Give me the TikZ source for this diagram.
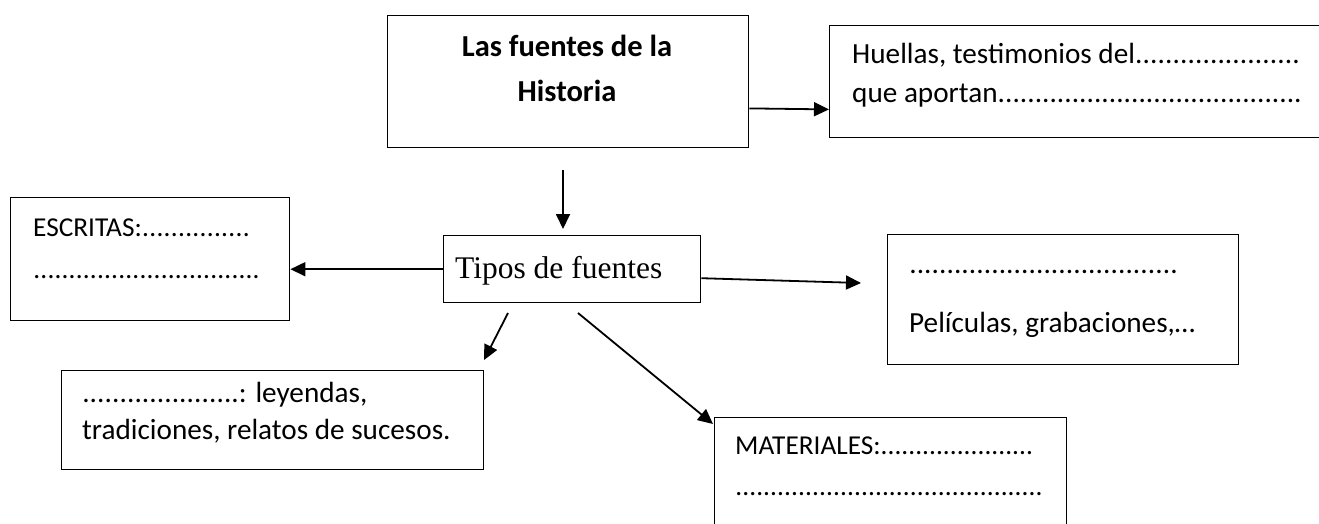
\documentclass[tikz,border=0pt]{standalone}
\usepackage{fontspec}
\setmainfont{Carlito}
\newfontfamily\timesfam{Liberation Serif}
\usetikzlibrary{arrows.meta,calc}
\newcommand\mydots{\xleaders\hbox{.}\hfill}
\begin{document}
\begin{tikzpicture}[x=1pt,y=-1pt,
  box/.style={draw,line width=1.4pt,inner sep=0pt,anchor=north west},
  txt/.style={anchor=base west,inner sep=0pt,font=\fontsize{29.2}{34}\selectfont},
  txts/.style={anchor=base west,inner sep=0pt,font=\fontsize{27.3}{32}\selectfont},
  ttl/.style={anchor=base,inner sep=0pt,font=\fontsize{30.5}{36}\selectfont\bfseries},
  conn/.style={line width=1.8pt,-{Triangle[length=15pt,width=14pt]}}]
\useasboundingbox (0,0) rectangle (1319,523);
\clip (0,0) rectangle (1319,523);
% boxes
\node[box,minimum width=361pt,minimum height=132pt] (main) at (387,15) {};
\node[box,minimum width=500pt,minimum height=112pt] (huellas) at (829,25) {};
\node[box,minimum width=257pt,minimum height=67pt] (tipos) at (443,235) {};
\node[box,minimum width=279pt,minimum height=123pt] (escritas) at (10,197) {};
\node[box,minimum width=351pt,minimum height=130pt] (peliculas) at (887,234) {};
\node[box,minimum width=422pt,minimum height=99pt] (leyendas) at (61,370) {};
\node[box,minimum width=352pt,minimum height=130pt] (materiales) at (714,417) {};
% texts
\node[ttl] (t1) at (567,56) {Las fuentes de la};
\node[ttl] (t2) at (567,101) {Historia};
\node[txt] (h1) at (852,63) {\makebox[448pt][l]{Huellas, testimonios del\mydots}};
\node[txt] (h2) at (852,102) {\makebox[450pt][l]{que aportan\mydots}};
\node[txts] (e1) at (33,236) {\makebox[217pt][l]{ESCRITAS:\mydots}};
\node[txts] (e2) at (33,278) {\makebox[227pt][l]{\mydots}};
\node[anchor=base west,inner sep=0pt,font=\timesfam\fontsize{31.5}{36}\selectfont] (tt) at (455,278) {Tipos de fuentes};
\node[txt] (p1) at (909,273) {\makebox[269pt][l]{\mydots}};
\node[txt] (p2) at (909,332) {Películas, grabaciones,…};
\node[txt] (l1) at (82,402) {\makebox[157pt][l]{\mydots}: leyendas,};
\node[txt] (l2) at (82,439) {tradiciones, relatos de sucesos.};
\node[txts] (m1) at (735,454) {\makebox[298pt][l]{MATERIALES:\mydots}};
\node[txts] (m2) at (735,495) {\makebox[308pt][l]{\mydots}};
% connector ends
\coordinate (vs) at (563,170);
\coordinate (ve) at (563,229);
\coordinate (pe) at (861,283);
\coordinate (ls) at (508,313);
\coordinate (le) at (484,360);
\coordinate (ms) at (578,313);
% connectors
\draw[conn] ($(main.south east)+(0,-40)$) -- ($(huellas.south west)+(0,-29)$);
\draw[conn] (vs) -- (ve);
\draw[conn] (tipos.west) -- (tipos.west -| escritas.east);
\draw[conn] ($(tipos.east)+(0,9)$) -- (pe);
\draw[conn] (ls) -- (le);
\draw[conn] (ms) -- ($(materiales.north west)+(-1,7)$);
\end{tikzpicture}
\end{document}
